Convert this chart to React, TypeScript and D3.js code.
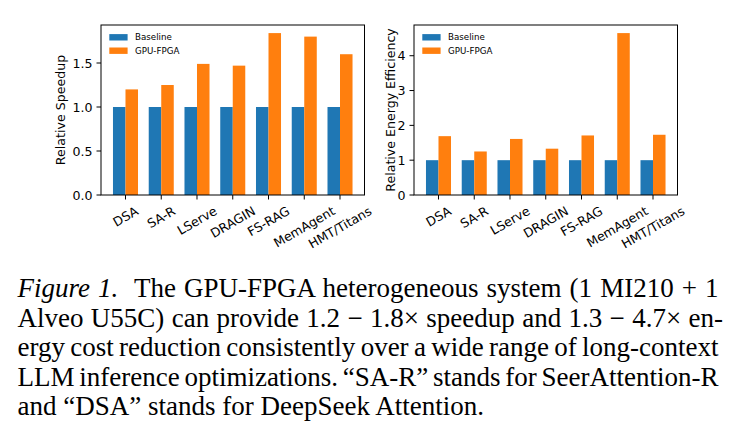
import React, { useEffect, useRef } from "react";
import * as d3 from "d3";

const categories = ["DSA", "SA-R", "LServe", "DRAGIN", "FS-RAG", "MemAgent", "HMT/Titans"];
const seriesNames = ["Baseline", "GPU-FPGA"];
const baselineSpeedup = [1, 1, 1, 1, 1, 1, 1];
const fpgaSpeedup = [1.2, 1.25, 1.49, 1.47, 1.84, 1.8, 1.6];
const baselineEnergy = [1, 1, 1, 1, 1, 1, 1];
const fpgaEnergy = [1.69, 1.25, 1.61, 1.33, 1.71, 4.65, 1.73];
const speedupTicks = [0, 0.5, 1.0, 1.5];
const energyTicks = [0, 1, 2, 3, 4];

const captionLines = [
  [{ t: "Figure 1.", it: true }, { t: "  The GPU-FPGA heterogeneous system (1 MI210 + 1" }],
  [{ t: "Alveo U55C) can provide 1.2 − 1.8× speedup and 1.3 − 4.7× en-" }],
  [{ t: "ergy cost reduction consistently over a wide range of long-context" }],
  [{ t: "LLM inference optimizations. “SA-R” stands for SeerAttention-R" }],
  [{ t: "and “DSA” stands for DeepSeek Attention." }],
];

const COLORS = ["#1f77b4", "#ff7f0e"];
const SANS = "DejaVu Sans";
const SERIF = "Liberation Serif";

type Panel = {
  left: number;
  right: number;
  ylabel: string;
  ylabelX: number;
  ticks: number[];
  fmt: (v: number) => string;
  series: number[][];
};

function drawPanel(svg: d3.Selection<SVGSVGElement, unknown, null, undefined>, p: Panel) {
  const top = 25;
  const bottom = 195;
  const fs = 12.6;
  const w = 0.35;
  const n = categories.length;
  const pad = (n - 1 + 2 * w) * 0.05;

  const x = d3.scaleLinear().domain([-w - pad, n - 1 + w + pad]).range([p.left, p.right]);
  const ymax = d3.max(p.series.flat())! * 1.05;
  const y = d3.scaleLinear().domain([0, ymax]).range([bottom, top]);

  const g = svg.append("g");

  // bars: baseline left of tick, GPU-FPGA right of tick
  p.series.forEach((vals, s) => {
    g.append("g")
      .selectAll("rect")
      .data(vals)
      .join("rect")
      .attr("x", (_, i) => x(i - w + s * w))
      .attr("width", x(w) - x(0))
      .attr("y", (d) => y(d))
      .attr("height", (d) => y(0) - y(d))
      .attr("fill", COLORS[s]);
  });

  // frame
  g.append("rect")
    .attr("x", p.left)
    .attr("y", top)
    .attr("width", p.right - p.left)
    .attr("height", bottom - top)
    .attr("fill", "none")
    .attr("stroke", "#000")
    .attr("stroke-width", 1);

  // y ticks
  const yt = g.append("g");
  p.ticks.forEach((t) => {
    yt.append("line")
      .attr("x1", p.left - 4.5)
      .attr("x2", p.left)
      .attr("y1", y(t))
      .attr("y2", y(t))
      .attr("stroke", "#000");
    yt.append("text")
      .attr("x", p.left - 8.5)
      .attr("y", y(t))
      .attr("text-anchor", "end")
      .attr("dominant-baseline", "central")
      .attr("font-family", SANS)
      .attr("font-size", fs)
      .text(p.fmt(t));
  });

  // x ticks with labels rotated 30 degrees, centred under the tick
  const xt = g.append("g");
  categories.forEach((c, i) => {
    xt.append("line")
      .attr("x1", x(i))
      .attr("x2", x(i))
      .attr("y1", bottom)
      .attr("y2", bottom + 4.5)
      .attr("stroke", "#000");
    const label = xt
      .append("text")
      .attr("text-anchor", "middle")
      .attr("dominant-baseline", "central")
      .attr("font-family", SANS)
      .attr("font-size", fs)
      .text(c);
    const tw = (label.node() as SVGTextElement).getComputedTextLength();
    const th = fs * 1.05;
    const a = Math.PI / 6;
    const H = tw * Math.sin(a) + th * Math.cos(a);
    const cy = bottom + 4.5 + 4.5 + H / 2;
    label.attr("transform", `translate(${x(i)},${cy}) rotate(-30)`);
  });

  // y label
  g.append("text")
    .attr("transform", `translate(${p.ylabelX},${(top + bottom) / 2}) rotate(-90)`)
    .attr("text-anchor", "middle")
    .attr("dominant-baseline", "central")
    .attr("font-family", SANS)
    .attr("font-size", fs)
    .text(p.ylabel);

  // legend, no frame
  const lg = g.append("g");
  seriesNames.forEach((name, s) => {
    const cy = 37.3 + s * 13.4;
    lg.append("rect")
      .attr("x", p.left + 8.3)
      .attr("y", cy - 3.2)
      .attr("width", 18.3)
      .attr("height", 6.4)
      .attr("fill", COLORS[s]);
    lg.append("text")
      .attr("x", p.left + 34)
      .attr("y", cy)
      .attr("dominant-baseline", "central")
      .attr("font-family", SANS)
      .attr("font-size", 8.7)
      .text(name);
  });
}

function drawCaption(svg: d3.Selection<SVGSVGElement, unknown, null, undefined>) {
  const x0 = 17.5;
  const fs = 27;
  const base = 297;
  const lead = 29.5;
  const targets = [718.5, 723, 718.5, 718.5, null];

  captionLines.forEach((parts, li) => {
    const text = svg
      .append("text")
      .attr("x", x0)
      .attr("y", base + li * lead)
      .attr("font-family", SERIF)
      .attr("font-size", fs)
      .attr("xml:space", "preserve")
      .style("white-space", "pre");
    parts.forEach((p) => {
      text
        .append("tspan")
        .attr("font-style", p.it ? "italic" : "normal")
        .text(p.t);
    });
    const target = targets[li];
    if (target !== null) {
      const natural = (text.node() as SVGTextElement).getComputedTextLength();
      const spaces = parts.map((p) => p.t).join("").split(" ").length - 1;
      const extra = (target - x0 - natural) / spaces;
      text.style("word-spacing", `${extra}px`);
    }
  });
}

export default function App() {
  const ref = useRef<SVGSVGElement>(null);

  useEffect(() => {
    document.body.style.margin = "0";
    const svg = d3.select(ref.current!);
    svg.selectAll("*").remove();

    drawPanel(svg, {
      left: 101,
      right: 364.5,
      ylabel: "Relative Speedup",
      ylabelX: 60.7,
      ticks: speedupTicks,
      fmt: d3.format(".1f"),
      series: [baselineSpeedup, fpgaSpeedup],
    });
    drawPanel(svg, {
      left: 414,
      right: 677.5,
      ylabel: "Relative Energy Efficiency",
      ylabelX: 390,
      ticks: energyTicks,
      fmt: d3.format("d"),
      series: [baselineEnergy, fpgaEnergy],
    });
    drawCaption(svg);
  }, []);

  return <svg ref={ref} width={739} height={439} style={{ display: "block", background: "#fff" }} />;
}
